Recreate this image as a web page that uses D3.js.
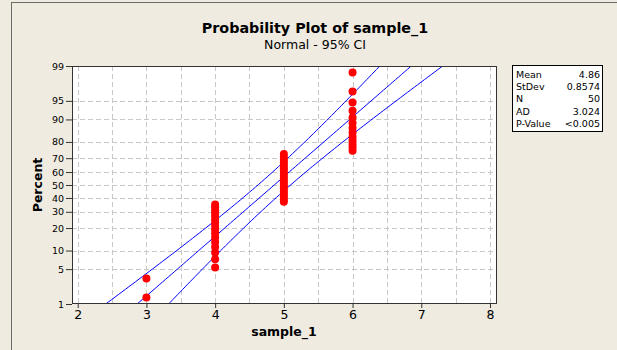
<!DOCTYPE html>
<meta charset="utf-8">
<style>
  body { margin: 0; background: #efebe1; }
  svg { display: block; font-family: "DejaVu Sans", sans-serif; }
</style>
<svg width="617" height="350"></svg>
<script src="https://d3js.org/d3.v7.min.js"></script>
<script>

// sample values (2 threes, 16 fours, 19 fives, 13 sixes)
var sample = [3, 3,
  4, 4, 4, 4, 4, 4, 4, 4, 4, 4, 4, 4, 4, 4, 4, 4,
  5, 5, 5, 5, 5, 5, 5, 5, 5, 5, 5, 5, 5, 5, 5, 5, 5, 5, 5,
  6, 6, 6, 6, 6, 6, 6, 6, 6, 6, 6, 6, 6];
var xTicks = [2, 3, 4, 5, 6, 7, 8];
var xGrid = [2, 2.5, 3, 3.5, 4, 4.5, 5, 5.5, 6, 6.5, 7, 7.5, 8];
var pctTicks = [1, 5, 10, 20, 30, 40, 50, 60, 70, 80, 90, 95, 99];
var statLabels = ["Mean", "StDev", "N", "AD", "P-Value"];
var statValues = ["4.86", "0.8574", "50", "3.024", "<0.005"];

var svg = d3.select("svg");

// inverse normal cdf (Acklam)
function qnorm(p) {
  var a = [-3.969683028665376e+01, 2.209460984245205e+02, -2.759285104469687e+02, 1.383577518672690e+02, -3.066479806614716e+01, 2.506628277459239e+00];
  var b = [-5.447609879822406e+01, 1.615858368580409e+02, -1.556989798598866e+02, 6.680131188771972e+01, -1.328068155288572e+01];
  var c = [-7.784894002430293e-03, -3.223964580411365e-01, -2.400758277161838e+00, -2.549732539343734e+00, 4.374664141464968e+00, 2.938163982698783e+00];
  var d = [7.784695709041462e-03, 3.224671290700398e-01, 2.445134137142996e+00, 3.754408661907416e+00];
  var pl = 0.02425, q, r;
  if (p < pl) {
    q = Math.sqrt(-2 * Math.log(p));
    return (((((c[0]*q+c[1])*q+c[2])*q+c[3])*q+c[4])*q+c[5]) / ((((d[0]*q+d[1])*q+d[2])*q+d[3])*q+1);
  }
  if (p > 1 - pl) {
    q = Math.sqrt(-2 * Math.log(1 - p));
    return -(((((c[0]*q+c[1])*q+c[2])*q+c[3])*q+c[4])*q+c[5]) / ((((d[0]*q+d[1])*q+d[2])*q+d[3])*q+1);
  }
  q = p - 0.5; r = q * q;
  return (((((a[0]*r+a[1])*r+a[2])*r+a[3])*r+a[4])*r+a[5])*q / (((((b[0]*r+b[1])*r+b[2])*r+b[3])*r+b[4])*r+1);
}

var pLeft = 72, pRight = 497, pTop = 66, pBottom = 304;

var x = d3.scaleLinear().domain([1.917, 8.102]).range([pLeft, pRight]);
var y = d3.scaleLinear().domain([qnorm(0.01), qnorm(0.99)]).range([pBottom, pTop]);

// outer frame
svg.append("rect")
    .attr("x", 11.5).attr("y", 2.5)
    .attr("width", 640).attr("height", 400)
    .attr("fill", "#efebe1")
    .attr("stroke", "#6b6b6b");

// plot area
svg.append("rect")
    .attr("x", pLeft).attr("y", pTop)
    .attr("width", pRight - pLeft).attr("height", pBottom - pTop)
    .attr("fill", "#fff");

svg.append("clipPath").attr("id", "clip")
  .append("rect")
    .attr("x", pLeft).attr("y", pTop)
    .attr("width", pRight - pLeft).attr("height", pBottom - pTop);

// grid
svg.append("g").selectAll("line")
  .data(xGrid)
  .enter().append("line")
    .attr("x1", function(d) { return Math.round(x(d)) + 0.5; })
    .attr("x2", function(d) { return Math.round(x(d)) + 0.5; })
    .attr("y1", pTop).attr("y2", pBottom)
    .attr("stroke", "#c8c8c8")
    .attr("stroke-dasharray", "5,3");

svg.append("g").selectAll("line")
  .data(pctTicks.slice(1, -1))
  .enter().append("line")
    .attr("x1", pLeft).attr("x2", pRight)
    .attr("y1", function(d) { return Math.round(y(qnorm(d / 100))) + 0.5; })
    .attr("y2", function(d) { return Math.round(y(qnorm(d / 100))) + 0.5; })
    .attr("stroke", "#c8c8c8")
    .attr("stroke-dasharray", "5,3");

// fit and 95% CI
var n = sample.length,
    mean = d3.mean(sample),
    sd = d3.deviation(sample);
var zs = d3.range(qnorm(0.001), qnorm(0.999) + 0.01, 0.05);
function band(k) {
  return zs.map(function(z) {
    var se = sd * Math.sqrt(1 / n + z * z / (2 * n));
    return [mean + sd * z + k * 1.96 * se, z];
  });
}
var line = d3.line()
    .x(function(d) { return x(d[0]); })
    .y(function(d) { return y(d[1]); });

svg.append("g")
    .attr("clip-path", "url(#clip)")
  .selectAll("path")
  .data([band(-1), band(0), band(1)])
  .enter().append("path")
    .attr("d", line)
    .attr("fill", "none")
    .attr("stroke", "#0000ff")
    .attr("stroke-width", 1);

// points at median ranks
var sorted = sample.slice().sort(d3.ascending);
svg.append("g").selectAll("circle")
  .data(sorted)
  .enter().append("circle")
    .attr("cx", function(d) { return x(d); })
    .attr("cy", function(d, i) { return y(qnorm((i + 1 - 0.3) / (n + 0.4))); })
    .attr("r", 4)
    .attr("fill", "#ff0000");

// plot border
svg.append("rect")
    .attr("x", pLeft + 0.5).attr("y", pTop + 0.5)
    .attr("width", pRight - pLeft - 1).attr("height", pBottom - pTop - 1)
    .attr("fill", "none")
    .attr("stroke", "#333");

// axes
var xAxis = svg.append("g")
    .attr("transform", "translate(0," + pBottom + ")")
    .call(d3.axisBottom(x).tickValues(xTicks).tickSize(4).tickFormat(d3.format("d")));
xAxis.select(".domain").remove();
xAxis.selectAll("line").attr("stroke", "#333");
xAxis.selectAll("text")
    .attr("font-family", "DejaVu Sans, sans-serif")
    .attr("font-size", 12.5)
    .attr("fill", "#000")
    .attr("dy", "0.75em")
    .attr("y", 6);

var yAxis = svg.append("g")
    .attr("transform", "translate(" + pLeft + ",0)")
    .call(d3.axisLeft(y)
      .tickValues(pctTicks.map(function(p) { return qnorm(p / 100); }))
      .tickSize(6)
      .tickFormat(function(d, i) { return pctTicks[i]; }));
yAxis.select(".domain").remove();
yAxis.selectAll("line").attr("stroke", "#333");
yAxis.selectAll("text")
    .attr("font-family", "DejaVu Sans, sans-serif")
    .attr("font-size", 9.5)
    .attr("fill", "#000")
    .attr("x", -8);

// titles
svg.append("text")
    .attr("x", 315).attr("y", 33)
    .attr("text-anchor", "middle")
    .attr("font-size", 14.3)
    .attr("font-weight", "bold")
    .text("Probability Plot of sample_1");

svg.append("text")
    .attr("x", 315).attr("y", 49)
    .attr("text-anchor", "middle")
    .attr("font-size", 12.5)
    .text("Normal - 95% CI");

svg.append("text")
    .attr("x", 284).attr("y", 336)
    .attr("text-anchor", "middle")
    .attr("font-size", 12.5)
    .attr("font-weight", "bold")
    .text("sample_1");

svg.append("text")
    .attr("transform", "translate(42,185) rotate(-90)")
    .attr("text-anchor", "middle")
    .attr("font-size", 12.5)
    .attr("font-weight", "bold")
    .text("Percent");

// stats box
var box = svg.append("g").attr("transform", "translate(512,65)");
box.append("rect")
    .attr("x", 0.5).attr("y", 0.5)
    .attr("width", 90).attr("height", 66)
    .attr("fill", "#fff")
    .attr("stroke", "#000");
box.selectAll("text.lab")
  .data(statLabels)
  .enter().append("text")
    .attr("class", "lab")
    .attr("x", 4)
    .attr("y", function(d, i) { return 12.5 + i * 12.4; })
    .attr("font-size", 9.5)
    .text(function(d) { return d; });
box.selectAll("text.val")
  .data(statValues)
  .enter().append("text")
    .attr("class", "val")
    .attr("x", 88)
    .attr("y", function(d, i) { return 12.5 + i * 12.4; })
    .attr("text-anchor", "end")
    .attr("font-size", 9.5)
    .text(function(d) { return d; });

</script>
